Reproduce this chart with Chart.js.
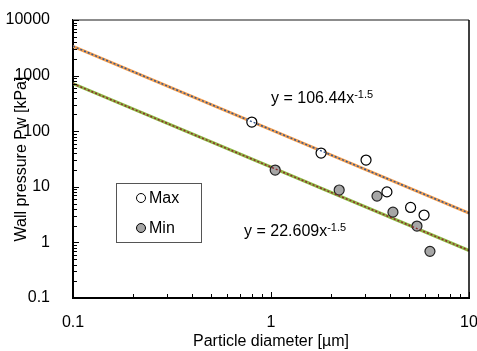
<!DOCTYPE html>
<html>
<head>
<meta charset="utf-8">
<script src="https://cdn.jsdelivr.net/npm/chart.js@4/dist/chart.umd.min.js"></script>
<style>
  body { margin: 0; background: #fff; }
  #wrap { width: 477px; height: 351px; }
</style>
</head>
<body>
<div id="wrap"><canvas id="chart" width="477" height="351"></canvas></div>
<script>
// particle diameter [µm] and wall pressure [kPa]
const maxDiameter = [0.80, 1.79, 3.02, 3.85, 5.07, 5.93];
const maxPressure = [146, 40.5, 30.3, 8.1, 4.25, 3.1];
const minDiameter = [1.05, 2.21, 3.43, 4.13, 5.46, 6.35];
const minPressure = [20.0, 8.75, 6.8, 3.5, 1.97, 0.69];

// power-law trend lines, end points at the axis limits
const trendX = [0.1, 10];
const maxTrend = [3366, 3.366];
const minTrend = [715, 0.715];

const xMajors = [0.1, 1, 10];
const yMajors = [0.1, 1, 10, 100, 1000, 10000];
const maxEquation = ['y = 106.44x', '-1.5'];
const minEquation = ['y = 22.609x', '-1.5'];

const FONT = '"Liberation Sans", Arial, sans-serif';

const pts = (xs, ys) => xs.map((x, i) => ({ x: x, y: ys[i] }));

// log axis tick marks: 1..9 times every decade
function logTicks(majors) {
  const out = [];
  majors.forEach((m, i) => {
    if (i === majors.length - 1) { out.push({ value: m, major: true }); return; }
    for (let k = 1; k < 10; k++) out.push({ value: +(m * k).toPrecision(6), major: k === 1 });
  });
  return out;
}

const frame = {
  id: 'frame',
  afterDraw(chart) {
    const ctx = chart.ctx;
    const a = chart.chartArea;
    const xs = chart.scales.x, ys = chart.scales.y;
    ctx.save();
    // top border grey, right border black
    ctx.strokeStyle = '#8c8c8c';
    ctx.lineWidth = 2;
    ctx.beginPath(); ctx.moveTo(a.left, a.top); ctx.lineTo(a.right, a.top); ctx.stroke();
    ctx.strokeStyle = '#000';
    ctx.lineWidth = 1.5;
    ctx.beginPath(); ctx.moveTo(a.right, a.top); ctx.lineTo(a.right, a.bottom); ctx.stroke();
    // inward ticks
    ctx.lineWidth = 1;
    ctx.strokeStyle = '#000';
    ys.ticks.forEach(t => {
      const p = Math.round(ys.getPixelForValue(t.value)) + 0.5;
      ctx.beginPath(); ctx.moveTo(a.left, p); ctx.lineTo(a.left + (t.major ? 6 : 4), p); ctx.stroke();
    });
    xs.ticks.forEach(t => {
      const p = Math.round(xs.getPixelForValue(t.value)) + 0.5;
      ctx.beginPath(); ctx.moveTo(p, a.bottom); ctx.lineTo(p, a.bottom - (t.major ? 6 : 4)); ctx.stroke();
    });

    // legend box
    ctx.strokeStyle = '#555';
    ctx.lineWidth = 1;
    ctx.strokeRect(116.5, 183.5, 85, 59);
    const legend = [['Max', '#fff', 198], ['Min', '#a6a6a6', 228]];
    ctx.font = '16px ' + FONT;
    ctx.textBaseline = 'middle';
    ctx.textAlign = 'left';
    legend.forEach(([label, fill, y]) => {
      ctx.beginPath();
      ctx.arc(141, y, 4.5, 0, Math.PI * 2);
      ctx.fillStyle = fill; ctx.fill();
      ctx.strokeStyle = '#000'; ctx.lineWidth = 1; ctx.stroke();
      ctx.fillStyle = '#000';
      ctx.fillText(label, 149, y + 1);
    });

    // trend line equations
    const eq = (parts, x, y) => {
      ctx.font = '16px ' + FONT;
      ctx.fillStyle = '#000';
      ctx.fillText(parts[0], x, y);
      const w = ctx.measureText(parts[0]).width;
      ctx.font = '11px ' + FONT;
      ctx.fillText(parts[1], x + w, y - 4);
    };
    eq(maxEquation, 271, 99);
    eq(minEquation, 244, 232);
    ctx.restore();
  }
};

new Chart(document.getElementById('chart'), {
  type: 'scatter',
  data: {
    datasets: [
      { label: 'Max trend', type: 'line', data: pts(trendX, maxTrend), borderColor: '#f6a04f', borderWidth: 3, pointRadius: 0, order: 3 },
      { label: 'Min trend', type: 'line', data: pts(trendX, minTrend), borderColor: '#8fb845', borderWidth: 3, pointRadius: 0, order: 3 },
      { label: 'Max', data: pts(maxDiameter, maxPressure), backgroundColor: '#fff', borderColor: '#000', borderWidth: 1.2, pointRadius: 5, order: 2 },
      { label: 'Min', data: pts(minDiameter, minPressure), backgroundColor: '#a6a6a6', borderColor: '#222', borderWidth: 1.2, pointRadius: 5, order: 2 },
      { label: 'Max trend dots', type: 'line', data: pts(trendX, maxTrend), borderColor: '#34578f', borderWidth: 1.5, borderDash: [2, 2], pointRadius: 0, order: 1 },
      { label: 'Min trend dots', type: 'line', data: pts(trendX, minTrend), borderColor: '#8a2b2b', borderWidth: 1.5, borderDash: [2, 2], pointRadius: 0, order: 1 }
    ]
  },
  options: {
    responsive: false,
    animation: false,
    layout: { padding: { left: 0, right: 8, top: 20, bottom: 0 } },
    plugins: { legend: { display: false }, tooltip: { enabled: false } },
    scales: {
      x: {
        type: 'logarithmic',
        min: 0.1, max: 10,
        afterBuildTicks: s => { s.ticks = logTicks(xMajors); },
        afterFit: s => { s.height = 53; s.paddingLeft = 0; s.paddingRight = 0; },
        grid: { display: false },
        border: { display: true, color: '#000', width: 2 },
        ticks: {
          autoSkip: false, maxRotation: 0, padding: 7, color: '#000',
          font: { family: FONT, size: 16 },
          callback: v => xMajors.includes(v) ? String(v) : ''
        },
        title: { display: true, text: 'Particle diameter [µm]', color: '#000', font: { family: FONT, size: 16 }, padding: { top: 0, bottom: 0 } }
      },
      y: {
        type: 'logarithmic',
        min: 0.1, max: 10000,
        afterBuildTicks: s => { s.ticks = logTicks(yMajors); },
        afterFit: s => { s.width = 73; s.paddingTop = 0; s.paddingBottom = 0; },
        grid: { display: false },
        border: { display: true, color: '#000', width: 2 },
        ticks: {
          autoSkip: false, padding: 15, color: '#000',
          font: { family: FONT, size: 16 },
          callback: v => yMajors.includes(v) ? String(v) : ''
        },
        title: { display: true, text: 'Wall pressure Pw [kPa]', color: '#000', font: { family: FONT, size: 16 }, padding: { top: 12, bottom: 0 } }
      }
    }
  },
  plugins: [frame]
});
</script>
</body>
</html>
